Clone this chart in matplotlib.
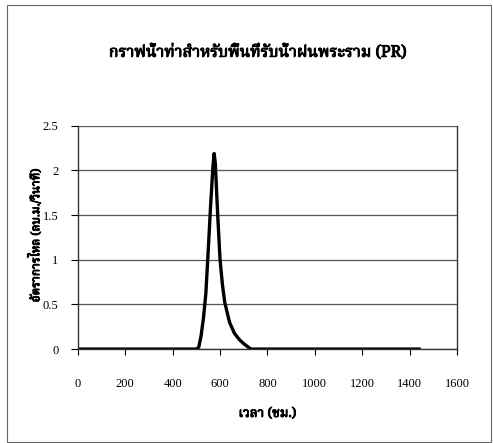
import matplotlib
matplotlib.use("Agg")
import matplotlib.pyplot as plt
import matplotlib.patheffects as pe
from matplotlib import font_manager
from matplotlib.patches import Rectangle
from fontTools.ttLib import TTFont

# ข้อมูลกราฟน้ำท่า
time_hr = [0, 500, 510, 520, 530, 540, 550, 560, 570, 575, 580, 590, 600,
           610, 620, 640, 660, 680, 700, 720, 730, 1440]
flow_cms = [0, 0, 0.02, 0.15, 0.35, 0.62, 1.1, 1.6, 2.05, 2.19, 2.08, 1.5, 1.0,
            0.72, 0.52, 0.3, 0.18, 0.11, 0.06, 0.02, 0, 0]
x_ticks = [0, 200, 400, 600, 800, 1000, 1200, 1400, 1600]
y_ticks = [0, 0.5, 1, 1.5, 2, 2.5]
y_tick_labels = ["0", "0.5", "1", "1.5", "2", "2.5"]

title = "กราฟน้ำท่าสำหรับพื้นที่รับน้ำฝนพระราม (PR)"
x_label = "เวลา (ชม.)"
y_label = "อัตราการไหล (ลบ.ม./วินาที)"


# หาฟอนต์ที่มีอักษรไทย (ไม่เอาแบบ mono)
def find_thai_font():
    found = []
    for path in font_manager.findSystemFonts():
        try:
            f = TTFont(path, fontNumber=0, lazy=True)
            cmap = f.getBestCmap()
            if cmap and 0x0E01 in cmap:
                found.append(font_manager.FontProperties(fname=path).get_name())
        except Exception:
            pass
    found = sorted(set(found))
    prefer = ["Laksaman", "Norasi", "Kinnari", "Noto Serif Thai", "Garuda",
              "Loma", "Noto Sans Thai", "Umpush", "Waree", "Sawasdee"]
    for name in prefer:
        if name in found:
            return [name]
    others = [n for n in found if "Mono" not in n and "Typ" not in n]
    return (others or found)[:1]


thai_fonts = find_thai_font()
text_family = thai_fonts + ["Liberation Serif", "DejaVu Serif"]

plt.rcParams['font.family'] = ["Liberation Serif", "DejaVu Serif"]

# ทำให้ตัวหนังสือดูหนาขึ้น (ฟอนต์ไทยไม่มีตัวหนา)
bold_fx = [pe.withStroke(linewidth=0.7, foreground="black")]

fig = plt.figure(figsize=(4.93, 4.43), dpi=100)
ax = fig.add_axes([0.158, 0.212, 0.769, 0.504])

ax.plot(time_hr, flow_cms, color="black", linewidth=2.4, solid_joinstyle="round")

ax.set_xlim(0, 1600)
ax.set_ylim(0, 2.5)
ax.set_xticks(x_ticks)
ax.set_yticks(y_ticks)
ax.set_yticklabels(y_tick_labels)
ax.yaxis.grid(True, color="#555555", linewidth=0.9)
ax.set_axisbelow(True)

for side in ["left", "bottom", "right"]:
    ax.spines[side].set_color("#333333")
    ax.spines[side].set_linewidth(1.0)
ax.spines["top"].set_visible(False)

ax.tick_params(axis="x", direction="out", length=4, pad=17, labelsize=9)
ax.tick_params(axis="y", direction="out", length=5, pad=9, labelsize=9)

ax.set_xlabel(x_label, family=text_family, fontsize=9.5, fontweight="bold", labelpad=12,
              path_effects=bold_fx)
ax.set_ylabel(y_label, family=text_family, fontsize=8.5, fontweight="bold", labelpad=4,
              path_effects=bold_fx)
ax.yaxis.set_label_coords(-0.094, 0.51)
fig.text(0.521, 0.882, title, family=text_family, fontsize=11.5, fontweight="bold",
         ha="center", va="center", path_effects=bold_fx)

# กรอบนอก
fig.patches.append(Rectangle((0.015, 0.003), 0.98, 0.986, transform=fig.transFigure,
                             fill=False, edgecolor="#666666", linewidth=0.8))

fig.savefig("out.png", dpi=100)
